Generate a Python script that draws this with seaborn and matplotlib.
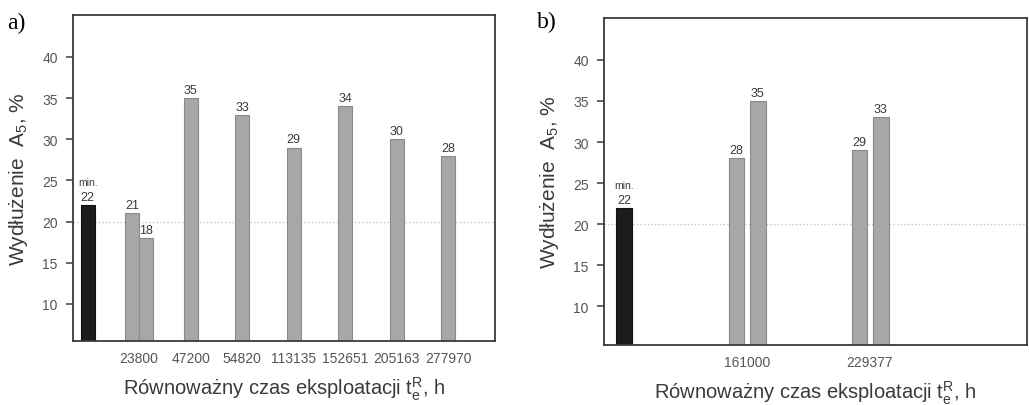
import matplotlib
matplotlib.use("Agg")
import matplotlib.pyplot as plt
import seaborn as sns
import pandas as pd

# Minimum elongation required for the steel grade
min_value = 22

# a) elongation A5 [%] per equivalent service time [h]; some times have two specimens
a_times = ["23800", "47200", "54820", "113135", "152651", "205163", "277970"]
a_first = [21, 35, 33, 29, 34, 30, 28]
a_second = [18, None, None, None, None, None, None]

# b) second material set
b_times = ["161000", "229377"]
b_first = [28, 29]
b_second = [35, 33]

y_ticks = [10, 15, 20, 25, 30, 35, 40]
ref_level = 20

sns.set_theme(style="ticks")
plt.rcParams["font.family"] = ["Liberation Sans", "DejaVu Sans"]
plt.rcParams["mathtext.fontset"] = "custom"
plt.rcParams["mathtext.rm"] = "Liberation Sans"
plt.rcParams["mathtext.it"] = "Liberation Sans:italic"

TEXT = "#3a3a3a"
TICK = "#555555"
SPINE = "#3a3a3a"
GREY = "#a7a7a7"
BLACK = "#1c1c1c"
HUE_ORDER = ["min", "first", "second"]
PALETTE = {"min": BLACK, "first": GREY, "second": GREY}


def build_frame(times, first, second):
    rows = [{"slot": "min", "value": min_value, "kind": "min"}]
    for t, v1, v2 in zip(times, first, second):
        rows.append({"slot": t, "value": v1, "kind": "first"})
        if v2 is not None:
            rows.append({"slot": t, "value": v2, "kind": "second"})
    return pd.DataFrame(rows)


def draw_panel(ax, times, first, second, width, gap, xlim, ylim):
    df = build_frame(times, first, second)
    order = ["min"] + list(times)
    paired = set(df.loc[df["kind"] == "second", "slot"])

    ax.axhline(ref_level, color="#c4c4c4", lw=1.0, ls=(0, (1, 1.6)), zorder=0.5)
    sns.barplot(data=df, x="slot", y="value", hue="kind", order=order,
                hue_order=HUE_ORDER, palette=PALETTE, dodge=False,
                width=width, errorbar=None, legend=False, ax=ax,
                edgecolor="#8a8a8a", linewidth=0.8, zorder=2)

    # place the two specimens of one service time side by side
    for container, kind in zip(ax.containers, HUE_ORDER):
        for bar in container:
            cx = bar.get_x() + bar.get_width() / 2
            slot = order[int(round(cx))]
            if slot in paired and kind in ("first", "second"):
                shift = (bar.get_width() + gap) / 2
                bar.set_x(bar.get_x() + (-shift if kind == "first" else shift))
            if kind == "min":
                bar.set_edgecolor("#111111")
            cx = bar.get_x() + bar.get_width() / 2
            h = bar.get_height()
            ax.annotate(f"{h:.0f}", (cx, h), xytext=(0, 1.5),
                        textcoords="offset points", ha="center", va="bottom",
                        fontsize=9, color=TEXT)
            if kind == "min":
                ax.annotate("min.", (cx, h), xytext=(0, 13),
                            textcoords="offset points", ha="center",
                            va="bottom", fontsize=7.5, color=TEXT)

    ax.set_xlim(*xlim)
    ax.set_ylim(*ylim)
    ax.set_yticks(y_ticks)
    ax.set_xticks(range(len(order)))
    ax.set_xticklabels([""] + list(times))
    ax.tick_params(axis="y", length=5, width=1.1, color=SPINE, pad=6,
                   labelsize=10, labelcolor=TICK)
    ax.tick_params(axis="x", length=0, pad=7, labelsize=10, labelcolor=TICK)
    for s in ax.spines.values():
        s.set_visible(True)
        s.set_color(SPINE)
        s.set_linewidth(1.3)
    ax.set_ylabel("Wydłużenie  A$_{5}$, %", fontsize=15, color=TEXT)
    ax.set_xlabel(r"Równoważny czas eksploatacji t$_{\mathrm{e}}^{\mathrm{R}}$, h",
                  fontsize=14.5, color=TEXT)


W, H = 1029, 406
fig = plt.figure(figsize=(W / 100, H / 100), dpi=100)
ax_a = fig.add_axes([73 / W, 1 - 342 / H, 422 / W, 326 / H])
ax_b = fig.add_axes([604 / W, 1 - 346 / H, 423 / W, 327 / H])

draw_panel(ax_a, a_times, a_first, a_second, width=0.272, gap=0.0,
           xlim=(-0.285, 7.91), ylim=(5.5, 45.1))
draw_panel(ax_b, b_times, b_first, b_second, width=0.126, gap=0.049,
           xlim=(-0.163, 3.276), ylim=(5.3, 45.1))

ax_a.yaxis.set_label_coords(-0.102, 0.5)
ax_b.yaxis.set_label_coords(-0.102, 0.5)
ax_a.xaxis.set_label_coords(0.5, -0.102)
ax_b.xaxis.set_label_coords(0.5, -0.102)

fig.text(7 / W, 1 - 29 / H, "a)", fontsize=17, family="Liberation Serif",
         va="baseline", color="black")
fig.text(537 / W, 1 - 28 / H, "b)", fontsize=17, family="Liberation Serif",
         va="baseline", color="black")

fig.savefig("out.png", dpi=100)
